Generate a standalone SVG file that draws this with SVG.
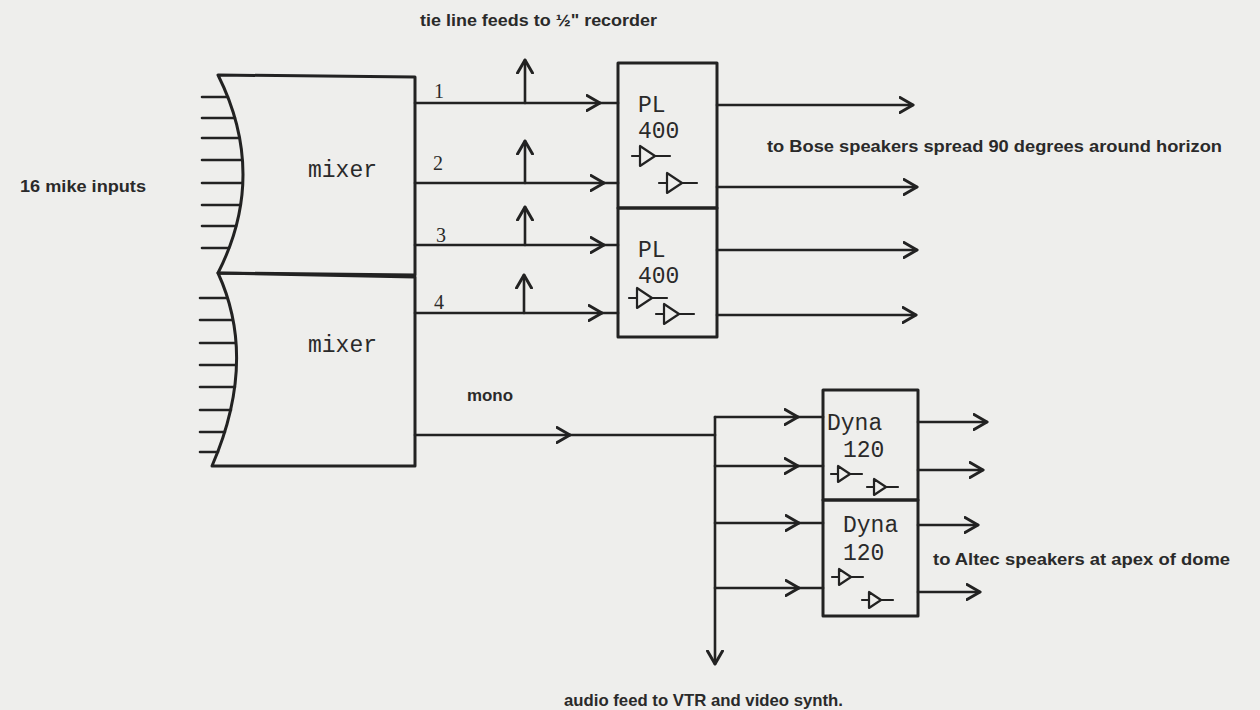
<svg xmlns="http://www.w3.org/2000/svg" width="1260" height="710" viewBox="0 0 1260 710">
<defs>
<style>
.ln{fill:none;stroke:#222;stroke-width:2.6;stroke-linecap:round;stroke-linejoin:round}
.bx{fill:none;stroke:#222;stroke-width:3;stroke-linejoin:round}
.amp{fill:none;stroke:#222;stroke-width:2.2;stroke-linejoin:round;stroke-linecap:round}
.lbl{font-family:"Liberation Sans",Arial,sans-serif;font-weight:bold;font-size:16.5px;fill:#2a2a2a}
.tw{font-family:"Liberation Mono","Courier New",monospace;font-size:23px;fill:#2a2a2a}
.num{font-family:"Liberation Serif","Times New Roman",serif;font-size:20px;fill:#2a2a2a}
.ar{marker-end:url(#arr)}
</style>
<marker id="arr" viewBox="-14 -9 16 18" refX="0" refY="0" markerWidth="16" markerHeight="18" markerUnits="userSpaceOnUse" orient="auto">
<path d="M-13,-7.5 L0,0 L-13,7.5" fill="none" stroke="#222" stroke-width="3" stroke-linecap="round" stroke-linejoin="round"/>
</marker>
<g id="ampsym"><path class="amp" d="M-8,0 H0 M0,-10 V10 L15,0 Z M15,0 H30"/></g>
<g id="ampsm"><path class="amp" d="M-7,0 H0 M0,-8 V8 L12,0 Z M12,0 H24"/></g>
</defs>
<rect x="0" y="0" width="1260" height="710" fill="#eeeeec"/>

<g id="labels">
<text class="lbl" x="20" y="192" textLength="126" lengthAdjust="spacingAndGlyphs">16 mike inputs</text>
<text class="lbl" x="420" y="26" font-size="15.5" textLength="237" lengthAdjust="spacingAndGlyphs">tie line feeds to ½" recorder</text>
<text class="lbl" x="767" y="152" textLength="455" lengthAdjust="spacingAndGlyphs">to Bose speakers spread 90 degrees around horizon</text>
<text class="lbl" x="467" y="401" font-size="15.5" textLength="46" lengthAdjust="spacingAndGlyphs">mono</text>
<text class="lbl" x="933" y="565" textLength="297" lengthAdjust="spacingAndGlyphs">to Altec speakers at apex of dome</text>
<text class="lbl" x="564" y="706" textLength="279" lengthAdjust="spacingAndGlyphs">audio feed to VTR and video synth.</text>
</g>

<g id="mixer-top">
<path class="bx" d="M218,75 L415,77 L415,275 L218,273 Q268,175 218,75 Z"/>
<text class="tw" x="308" y="177">mixer</text>
<path class="ln" d="M202,97 H228 M202,118 H235 M202,138 H239 M202,160 H242 M202,183 H242 M202,205 H240 M202,226 H236 M202,248 H229"/>
</g>
<g id="mixer-bottom">
<path class="bx" d="M218,273 L415,277 L415,466 L212,466 Q258,360 218,273 Z"/>
<text class="tw" x="308" y="352">mixer</text>
<path class="ln" d="M200,298 H227 M200,320 H232 M200,343 H235 M200,365 H236 M200,387 H235 M200,410 H231 M200,432 H225 M200,452 H218"/>
</g>

<g id="pl400-1">
<rect class="bx" x="618" y="63" width="99" height="145"/>
<text class="tw" x="638" y="112">PL</text>
<text class="tw" x="638" y="138">400</text>
<use href="#ampsym" x="640" y="156"/>
<use href="#ampsym" x="667" y="183"/>
</g>
<g id="pl400-2">
<rect class="bx" x="618" y="208" width="99" height="129"/>
<text class="tw" x="638" y="257">PL</text>
<text class="tw" x="638" y="283">400</text>
<use href="#ampsym" x="637" y="298"/>
<use href="#ampsym" x="664" y="314"/>
</g>

<g id="dyna-1">
<rect class="bx" x="823" y="390" width="95" height="110"/>
<text class="tw" x="827" y="430">Dyna</text>
<text class="tw" x="843" y="457">120</text>
<use href="#ampsm" x="838" y="474"/>
<use href="#ampsm" x="874" y="487"/>
</g>
<g id="dyna-2">
<rect class="bx" x="823" y="500" width="95" height="116"/>
<text class="tw" x="843" y="532">Dyna</text>
<text class="tw" x="843" y="560">120</text>
<use href="#ampsm" x="839" y="577"/>
<use href="#ampsm" x="869" y="600"/>
</g>

<g id="connectors">
<text class="num" x="434" y="98">1</text>
<text class="num" x="433" y="170">2</text>
<text class="num" x="436" y="242">3</text>
<text class="num" x="434" y="309">4</text>
<path class="ln ar" d="M415,103 H600"/><path class="ln" d="M600,103 H618"/>
<path class="ln ar" d="M415,183 H604"/><path class="ln" d="M604,183 H618"/>
<path class="ln ar" d="M415,245 H604"/><path class="ln" d="M604,245 H618"/>
<path class="ln ar" d="M415,313 H602"/><path class="ln" d="M602,313 H618"/>
<path class="ln ar" d="M525,103 V60"/>
<path class="ln ar" d="M525,183 V141"/>
<path class="ln ar" d="M525,245 V207"/>
<path class="ln ar" d="M524,313 V275"/>
<path class="ln ar" d="M717,105 H913"/>
<path class="ln ar" d="M717,187 H917"/>
<path class="ln ar" d="M717,250 H917"/>
<path class="ln ar" d="M717,315 H916"/>
<path class="ln ar" d="M415,435 H570"/><path class="ln" d="M570,435 H715"/>
<path class="ln ar" d="M715,417 V664"/>
<path class="ln ar" d="M715,417 H798"/><path class="ln" d="M798,417 H823"/>
<path class="ln ar" d="M715,466 H798"/><path class="ln" d="M798,466 H823"/>
<path class="ln ar" d="M715,523 H799"/><path class="ln" d="M799,523 H823"/>
<path class="ln ar" d="M715,588 H799"/><path class="ln" d="M799,588 H823"/>
<path class="ln ar" d="M918,422 H987"/>
<path class="ln ar" d="M918,470 H983"/>
<path class="ln ar" d="M918,525 H978"/>
<path class="ln ar" d="M918,592 H980"/>
</g>
</svg>
